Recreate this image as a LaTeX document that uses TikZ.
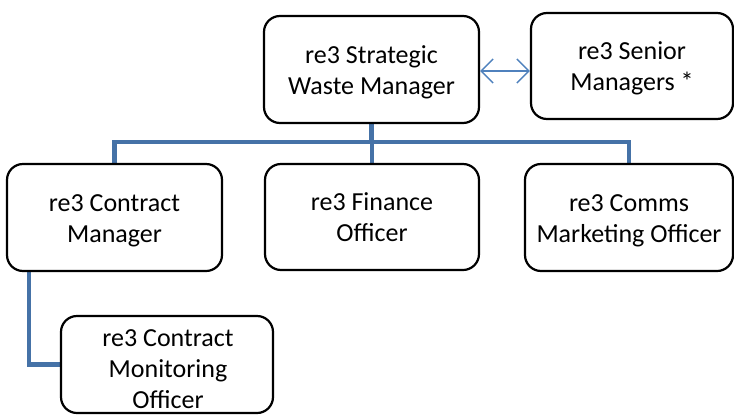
\documentclass[tikz,border=0pt]{standalone}
\usepackage{fontspec}
\setmainfont{Carlito}
\usetikzlibrary{arrows.meta}
\definecolor{linkblue}{RGB}{69,114,167}
\definecolor{arrowblue}{RGB}{79,129,189}
\pgfdeclarelayer{background}
\pgfsetlayers{background,main}
% centred lines with a fixed pitch, so every label sits the same way
\newcommand\boxlines[1]{\begin{tabular}{@{}c@{}}#1\end{tabular}}
\tikzset{
  box/.style={draw=black, line width=2.2pt, fill=white, rounded corners=16pt,
    inner sep=0pt, minimum width=#1, minimum height=107pt},
  box/.default=215pt,
  boxtext/.style={inner sep=0pt, font=\fontsize{26}{31}\selectfont},
  link/.style={draw=linkblue, line width=4.5pt},
  peer/.style={draw=arrowblue, line width=1.5pt,
    {Straight Barb[length=12pt,width=24pt]}-{Straight Barb[length=12pt,width=24pt]}}
}
\begin{document}
\begin{tikzpicture}[x=1pt,y=-1pt]
\useasboundingbox (0,0) rectangle (734,416);

% management row
\node[box] (sw) at (371.5,69.5) {};
\node[box=202pt, minimum height=106pt] (sen) at (632,66) {};

% officer row
\node[box] (cm) at (114.5,217.5) {};
\node[box=214pt, minimum height=106pt] (fin) at (372,217) {};
\node[box=208pt] (com) at (629,217.5) {};

% reporting to the contract manager
\node[box=212pt, minimum height=97pt] (mon) at (167,364.5) {};

% box captions
\node[boxtext] (sw-t)  at ([yshift=-2.8pt]sw.center)  {\boxlines{re3 Strategic\\Waste Manager}};
\node[boxtext] (sen-t) at ([yshift=-2.8pt]sen.center) {\boxlines{re3 Senior\\Managers *}};
\node[boxtext] (cm-t)  at ([yshift=-2.8pt]cm.center)  {\boxlines{re3 Contract\\Manager}};
\node[boxtext] (fin-t) at ([yshift=-2.8pt]fin.center) {\boxlines{re3 Finance\\Officer}};
\node[boxtext] (com-t) at ([yshift=-2.8pt]com.center) {\boxlines{re3 Comms\\Marketing Officer}};
\node[boxtext] (mon-t) at ([xshift=1pt,yshift=-7pt]mon.center) {\boxlines{re3 Contract\\Monitoring\\Officer}};

\coordinate (bus) at (0,142);
\coordinate (drop) at ([xshift=23pt]cm.south west);

\begin{pgfonlayer}{background}
  \draw[link] (sw.south) -- (sw.south |- bus) -| (cm.north);
  \draw[link] (sw.south |- bus) -| (fin.north);
  \draw[link] (sw.south |- bus) -| (com.north);
  \draw[link] (drop) |- (mon.west);
\end{pgfonlayer}

\draw[peer] ([yshift=-1.5pt]sw.east) -- ([yshift=-1.5pt]sw.east -| sen.west);
\end{tikzpicture}
\end{document}
